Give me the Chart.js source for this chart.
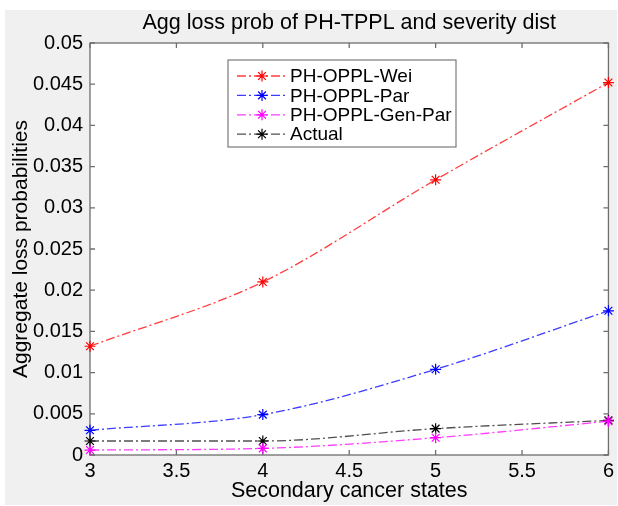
<!DOCTYPE html>
<html lang="en">
<head>
<meta charset="UTF-8">
<title>Agg loss prob</title>
<script src="https://cdn.jsdelivr.net/npm/chart.js"></script>
<style>
  html, body { margin: 0; padding: 0; background: #fff; }
  #wrap { width: 618px; height: 506px; }
</style>
</head>
<body>
<div id="wrap"><canvas id="chart" width="618" height="506"></canvas></div>
<script>
// data
const states = [3, 4, 5, 6];
const weiValues = [0.0132, 0.0210, 0.0334, 0.0452];
const parValues = [0.0030, 0.0049, 0.0104, 0.0175];
const genParValues = [0.0006, 0.0008, 0.0021, 0.0041];
const actualValues = [0.0017, 0.0017, 0.0032, 0.0042];
const seriesNames = ['PH-OPPL-Wei', 'PH-OPPL-Par', 'PH-OPPL-Gen-Par', 'Actual'];
const xTicks = [3, 3.5, 4, 4.5, 5, 5.5, 6];
const yTicks = [0, 0.005, 0.01, 0.015, 0.02, 0.025, 0.03, 0.035, 0.04, 0.045, 0.05];
const chartTitle = 'Agg loss prob of PH-TPPL and severity dist';

const FONT = 'Liberation Sans, Arial, Helvetica, sans-serif';
const DASH = [9, 3, 2, 3];

function pts(vals) {
    return vals.map((v, i) => ({ x: states[i], y: v }));
}

function series(label, vals, lineColor, markColor) {
    return {
        label: label,
        data: pts(vals),
        borderColor: lineColor,
        borderWidth: 1.3,
        borderDash: DASH,
        pointStyle: 'star',
        pointRadius: 5.5,
        pointBorderWidth: 1.2,
        pointBorderColor: markColor,
        pointBackgroundColor: markColor,
        cubicInterpolationMode: 'monotone',
        fill: false,
        clip: false
    };
}

// gray figure background + title centred on the axes
const bgPlugin = {
    id: 'bg',
    beforeDraw(chart) {
        const c = chart.ctx;
        c.save();
        c.fillStyle = '#ffffff';
        c.fillRect(0, 0, chart.width, chart.height);
        c.fillStyle = '#f0f0f0';
        c.fillRect(5, 10, chart.width - 6, chart.height - 11);
        const a = chart.chartArea;
        c.fillStyle = '#ffffff';
        c.fillRect(a.left, a.top, a.right - a.left, a.bottom - a.top);
        c.fillStyle = '#000';
        c.font = '21.5px ' + FONT;
        c.textAlign = 'center';
        c.textBaseline = 'middle';
        c.fillText(chartTitle, (a.left + a.right) / 2, 23);
        c.restore();
    }
};

// matlab style box with inward ticks
const boxPlugin = {
    id: 'box',
    beforeDatasetsDraw(chart) {
        const c = chart.ctx, a = chart.chartArea;
        const xs = chart.scales.x, ys = chart.scales.y;
        c.save();
        c.strokeStyle = '#6e6e6e';
        c.lineWidth = 1.3;
        c.strokeRect(a.left, a.top, a.right - a.left, a.bottom - a.top);
        c.beginPath();
        xTicks.forEach(t => {
            const px = xs.getPixelForValue(t);
            c.moveTo(px, a.bottom); c.lineTo(px, a.bottom - 5);
            c.moveTo(px, a.top); c.lineTo(px, a.top + 5);
        });
        yTicks.forEach(t => {
            const py = ys.getPixelForValue(t);
            c.moveTo(a.left, py); c.lineTo(a.left + 5, py);
            c.moveTo(a.right, py); c.lineTo(a.right - 5, py);
        });
        c.stroke();
        c.restore();
    }
};

// legend box inside the axes
const legendPlugin = {
    id: 'boxLegend',
    afterDraw(chart) {
        const c = chart.ctx;
        const x0 = 228, y0 = 60, w = 228, h = 87;
        c.save();
        c.fillStyle = '#ffffff';
        c.fillRect(x0, y0, w, h);
        c.strokeStyle = '#7a7a7a';
        c.lineWidth = 1.2;
        c.strokeRect(x0, y0, w, h);
        chart.data.datasets.forEach((ds, i) => {
            const y = y0 + 16 + i * 19.4;
            c.strokeStyle = ds.borderColor;
            c.lineWidth = 1.3;
            c.setLineDash(DASH);
            c.beginPath();
            c.moveTo(x0 + 9, y); c.lineTo(x0 + 57, y);
            c.stroke();
            c.setLineDash([]);
            c.strokeStyle = ds.pointBorderColor;
            c.lineWidth = 1.2;
            Chart.helpers.drawPoint(c, { pointStyle: 'star', radius: 5.5, borderWidth: 1.2 }, x0 + 34, y);
            c.fillStyle = '#000';
            c.font = '19px ' + FONT;
            c.textBaseline = 'middle';
            c.fillText(ds.label, x0 + 62, y + 1);
        });
        c.restore();
    }
};

new Chart(document.getElementById('chart'), {
    type: 'line',
    data: {
        datasets: [
            series(seriesNames[0], weiValues, 'rgba(255,40,40,0.9)', '#ff0000'),
            series(seriesNames[1], parValues, 'rgba(40,40,255,0.9)', '#0000ff'),
            series(seriesNames[2], genParValues, 'rgba(255,40,255,0.9)', '#ff00ff'),
            series(seriesNames[3], actualValues, '#505050', '#000000')
        ]
    },
    options: {
        responsive: false,
        animation: false,
        layout: { padding: { left: 0, right: 7, top: 43, bottom: 0 } },
        plugins: {
            legend: { display: false },
            tooltip: { enabled: false },
            title: { display: false }
        },
        scales: {
            x: {
                type: 'linear',
                min: 3, max: 6,
                afterBuildTicks: s => { s.ticks = xTicks.map(v => ({ value: v })); },
                afterFit: s => { s.height = 51; },
                grid: { display: false, drawTicks: false },
                border: { display: false },
                ticks: {
                    color: '#000',
                    padding: 4,
                    font: { family: FONT, size: 20 },
                    callback: v => String(v)
                },
                title: {
                    display: true,
                    text: 'Secondary cancer states',
                    color: '#000',
                    font: { family: FONT, size: 21.5 },
                    padding: { top: 0, bottom: 2 }
                }
            },
            y: {
                min: 0, max: 0.05,
                afterBuildTicks: s => { s.ticks = yTicks.map(v => ({ value: v })); },
                afterFit: s => { s.width = 90; },
                grid: { display: false, drawTicks: false },
                border: { display: false },
                ticks: {
                    color: '#000',
                    padding: 7,
                    font: { family: FONT, size: 20 },
                    callback: v => String(Number(v.toFixed(3)))
                },
                title: {
                    display: true,
                    text: 'Aggregate loss probabilities',
                    color: '#000',
                    font: { family: FONT, size: 21 },
                    padding: { top: 9, bottom: 0 }
                }
            }
        }
    },
    plugins: [bgPlugin, boxPlugin, legendPlugin]
});
</script>
</body>
</html>
